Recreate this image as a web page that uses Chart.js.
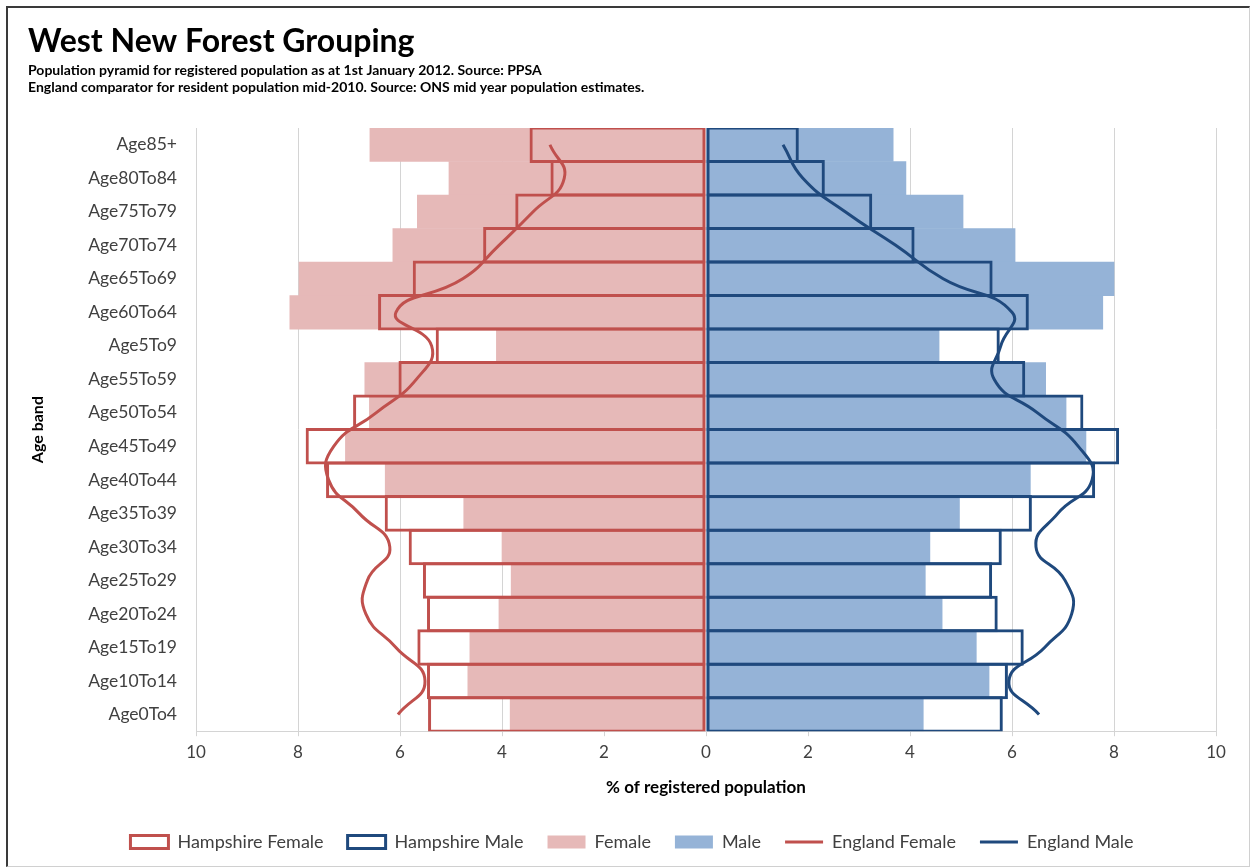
<!DOCTYPE html>
<html>
<head>
<meta charset="utf-8">
<title>West New Forest Grouping</title>
<script src="https://cdn.jsdelivr.net/npm/chart.js@4.4.1/dist/chart.umd.min.js"></script>
<style>
  html, body { margin: 0; padding: 0; background: #fff; }
  #frame {
    position: absolute; left: 6px; top: 6px; width: 1241px; height: 858px;
    border-top: 2px solid #3a3a3a; border-left: 2px solid #3a3a3a;
    border-right: 1px solid #d0d0d0; border-bottom: 1px solid #d0d0d0;
  }
  #pyramid { position: absolute; left: 0; top: 0; }
</style>
</head>
<body>
<div id="frame"></div>
<canvas id="pyramid" width="1251" height="868"></canvas>
<script>
// Population pyramid, West New Forest Grouping vs Hampshire and England.
// Female values are plotted to the left (negated), male to the right.

const ageBands = [
  "Age85+", "Age80To84", "Age75To79", "Age70To74", "Age65To69", "Age60To64",
  "Age5To9", "Age55To59", "Age50To54", "Age45To49", "Age40To44", "Age35To39",
  "Age30To34", "Age25To29", "Age20To24", "Age15To19", "Age10To14", "Age0To4"
];

// % of registered population
const femaleValues        = [6.59, 5.04, 5.66, 6.14, 7.98, 8.16, 4.11, 6.69, 6.60, 7.07, 6.29, 4.75, 4.00, 3.82, 4.06, 4.63, 4.67, 3.84];
const maleValues          = [3.67, 3.92, 5.04, 6.06, 8.00, 7.78, 4.57, 6.66, 7.06, 7.45, 6.36, 4.97, 4.39, 4.30, 4.63, 5.30, 5.55, 4.26];
const hampshireFemale     = [3.46, 3.05, 3.74, 4.37, 5.75, 6.43, 5.30, 6.03, 6.92, 7.85, 7.45, 6.30, 5.83, 5.55, 5.47, 5.66, 5.47, 5.45];
const hampshireMale       = [1.82, 2.33, 3.26, 4.09, 5.62, 6.33, 5.76, 6.26, 7.40, 8.10, 7.63, 6.39, 5.80, 5.61, 5.72, 6.23, 5.92, 5.82];
const englandFemale       = [3.06, 2.78, 3.39, 4.06, 4.77, 6.08, 5.38, 5.68, 6.47, 7.30, 7.40, 6.80, 6.20, 6.64, 6.67, 6.08, 5.51, 6.04];
const englandMale         = [1.51, 1.90, 2.73, 3.72, 4.65, 6.00, 5.78, 5.65, 6.50, 7.30, 7.57, 6.90, 6.47, 7.04, 7.17, 6.64, 5.94, 6.53];

const xTicks = [-10, -8, -6, -4, -2, 0, 2, 4, 6, 8, 10];

const FONT = "Lato, 'Open Sans', 'DejaVu Sans', sans-serif";
const TEXT = "#404040";
const RED = "#C0504D", NAVY = "#1F497D", PINK = "#E6B9B8", BLUE = "#95B3D7";

const left = arr => arr.map(v => -v);

// outline bars are a touch taller than the band so neighbouring borders overlap (Excel look)
const outlineBar = (label, data, color) => ({
  type: "bar", label, data,
  backgroundColor: "rgba(0,0,0,0)", borderColor: color, borderWidth: 3,
  borderSkipped: false, barPercentage: 1.09, categoryPercentage: 1,
  grouped: false, order: 1,
  legendStyle: { pointStyle: "rect", fillStyle: "#fff", strokeStyle: color, lineWidth: 3 },
});
const fillBar = (label, data, color) => ({
  type: "bar", label, data,
  backgroundColor: color, borderWidth: 0,
  barPercentage: 1, categoryPercentage: 1,
  grouped: false, order: 2,
  legendStyle: { pointStyle: "rect", fillStyle: color, strokeStyle: color, lineWidth: 0 },
});
const smoothLine = (label, data, color) => ({
  type: "line", label, data,
  borderColor: color, borderWidth: 3, pointRadius: 0, tension: 0.5,
  fill: false, order: 0,
  legendStyle: { pointStyle: "line", fillStyle: color, strokeStyle: color, lineWidth: 3 },
});

const datasets = [
  outlineBar("Hampshire Female", left(hampshireFemale), RED),
  outlineBar("Hampshire Male", hampshireMale, NAVY),
  fillBar("Female", left(femaleValues), PINK),
  fillBar("Male", maleValues, BLUE),
  smoothLine("England Female", left(englandFemale), RED),
  smoothLine("England Male", englandMale, NAVY),
];

// nudge the legend a little right, the way Excel centres it under the frame
const legendShift = {
  id: "legendShift",
  afterLayout(chart) {
    if (!chart.legend) return;
    chart.legend.left += 10;
    chart.legend.right += 10;
  },
};

new Chart(document.getElementById("pyramid"), {
  data: { labels: ageBands, datasets },
  plugins: [legendShift],
  options: {
    indexAxis: "y",
    responsive: false,
    animation: false,
    layout: { padding: { left: 28, right: 35, top: 10, bottom: 7 } },
    plugins: {
      title: {
        display: true, align: "start", color: "#000",
        text: "West New Forest Grouping",
        font: { family: FONT, size: 32, weight: "bold", lineHeight: 1.1 },
        padding: { top: 14, bottom: 0 },
      },
      subtitle: {
        display: true, align: "start", color: "#000",
        text: [
          "Population pyramid for registered population as at 1st January 2012. Source: PPSA",
          "England comparator for resident population mid-2010. Source: ONS mid year population estimates.",
        ],
        font: { family: FONT, size: 14, weight: "bold", lineHeight: 17 / 14 },
        padding: { top: 3, bottom: 31.8 },
      },
      legend: {
        position: "bottom",
        labels: {
          color: TEXT,
          font: { family: FONT, size: 18 },
          usePointStyle: true,
          pointStyleWidth: 38,
          boxHeight: 13,
          padding: 24,
          generateLabels: chart => chart.data.datasets.map((ds, i) => ({
            text: ds.label,
            datasetIndex: i,
            hidden: false,
            fontColor: TEXT,
            ...ds.legendStyle,
          })),
        },
      },
      tooltip: { enabled: false },
    },
    scales: {
      x: {
        type: "linear",
        min: -10, max: 10,
        afterBuildTicks: scale => { scale.ticks = xTicks.map(v => ({ value: v })); },
        ticks: {
          color: TEXT, padding: 5.8,
          font: { family: FONT, size: 17 },
          callback: v => Math.abs(v),
        },
        grid: { color: "#d4d4d4", lineWidth: 1, drawTicks: true, tickLength: 5 },
        border: { color: "#d4d4d4" },
        title: {
          display: true, text: "% of registered population", color: "#000",
          font: { family: FONT, size: 17, weight: "bold" },
          padding: { top: 9.6, bottom: 10.8 },
        },
      },
      y: {
        type: "category",
        offset: true,
        afterFit: scale => { scale.width = 168; },
        ticks: { color: TEXT, padding: 11, font: { family: FONT, size: 17.5 } },
        grid: { display: false },
        border: { color: "#d4d4d4" },
        title: {
          display: true, text: "Age band", color: "#000",
          font: { family: FONT, size: 16, weight: "bold" },
          padding: 0,
        },
      },
    },
  },
});
</script>
</body>
</html>
